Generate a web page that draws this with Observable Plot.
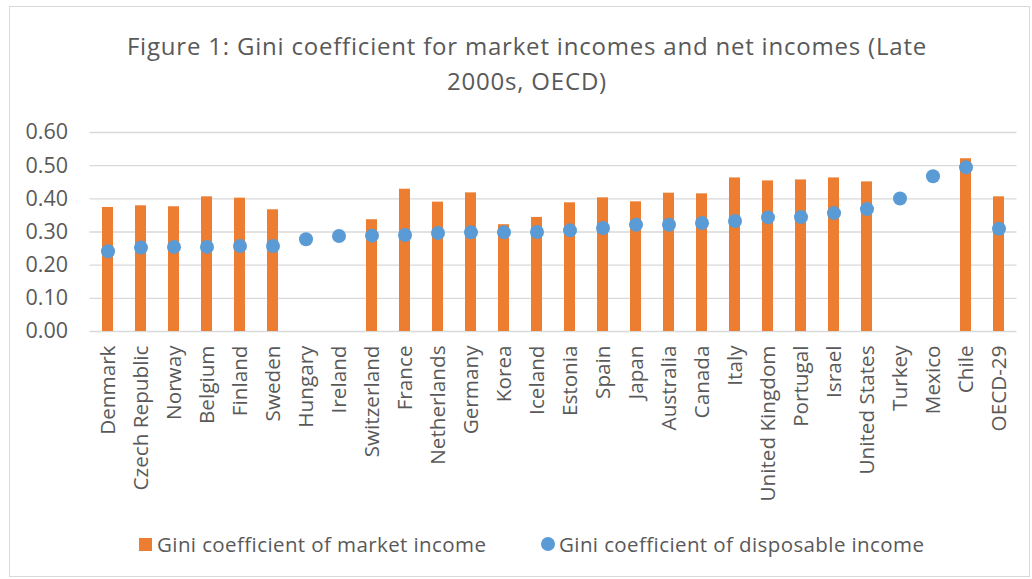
<!DOCTYPE html>
<html>
<head>
<meta charset="utf-8">
<script src="https://cdn.jsdelivr.net/npm/d3@7"></script>
<script src="https://cdn.jsdelivr.net/npm/@observablehq/plot@0.6"></script>
<style>
  html, body { margin: 0; padding: 0; background: #fff; }
  body { width: 1032px; height: 579px; overflow: hidden; position: relative; font-family: "Open Sans", sans-serif; color: #595959; }
  #frame { position: absolute; left: 9px; top: 6px; width: 1021px; height: 571px; border: 1px solid #d9d9d9; box-sizing: border-box; }
  #title { position: absolute; left: 11px; top: 28px; width: 1032px; text-align: center; font-size: 24px; letter-spacing: 0.8px; line-height: 35px; color: #595959; }
  #chart { position: absolute; left: 0; top: 0; }
  #legend { position: absolute; top: 530px; left: 0; width: 1032px; font-size: 20.5px; letter-spacing: 0.4px; color: #595959; }
  .item { position: absolute; display: flex; align-items: center; white-space: nowrap; }
  .sw { width: 13px; height: 13px; background: #ED7D31; margin-right: 5px; }
  .dt { width: 14px; height: 14px; border-radius: 50%; background: #5B9BD5; margin-right: 4px; }
</style>
</head>
<body>
<div id="frame"></div>
<div id="chart"></div>
<div id="title">Figure 1: Gini coefficient for market incomes and net incomes (Late<br>2000s, OECD)</div>
<div id="legend">
  <div class="item" style="left:139px;"><span class="sw"></span>Gini coefficient of market income</div>
  <div class="item" style="left:541px;"><span class="dt"></span>Gini coefficient of disposable income</div>
</div>
<script>
const countries = ["Denmark","Czech Republic","Norway","Belgium","Finland","Sweden","Hungary","Ireland","Switzerland","France","Netherlands","Germany","Korea","Iceland","Estonia","Spain","Japan","Australia","Canada","Italy","United Kingdom","Portugal","Israel","United States","Turkey","Mexico","Chile","OECD-29"];
const marketGini = [0.374,0.379,0.376,0.406,0.402,0.367,null,null,0.337,0.429,0.390,0.418,0.322,0.344,0.388,0.403,0.391,0.417,0.415,0.463,0.454,0.457,0.463,0.451,null,null,0.521,0.406];
const disposableGini = [0.242,0.253,0.255,0.255,0.258,0.258,0.278,0.288,0.289,0.291,0.297,0.299,0.299,0.300,0.305,0.312,0.322,0.322,0.327,0.333,0.344,0.345,0.357,0.369,0.401,0.468,0.495,0.310];
const yTicks = [0, 0.1, 0.2, 0.3, 0.4, 0.5, 0.6];

const rows = countries.map((c, i) => ({country: c, market: marketGini[i], disposable: disposableGini[i]}));
const marketRows = rows.filter(d => d.market != null);

const plot = Plot.plot({
  width: 1032,
  height: 520,
  marginTop: 132,
  marginBottom: 189,
  marginLeft: 89.5,
  marginRight: 15.5,
  style: {fontFamily: "'Open Sans', sans-serif", color: "#595959", background: "transparent"},
  x: {domain: countries, padding: 0, label: null},
  y: {domain: [0, 0.6], label: null},
  marks: [
    Plot.gridY(yTicks, {stroke: "#d9d9d9", strokeOpacity: 1, strokeWidth: 1.3}),
    Plot.barY(marketRows, {x: "country", y: "market", fill: "#ED7D31", insetLeft: 11, insetRight: 11}),
    Plot.dot(rows, {x: "country", y: "disposable", r: 7, fill: "#5B9BD5"}),
    Plot.axisY({ticks: yTicks, tickFormat: d3.format(".2f"), tickSize: 0, tickPadding: 22, fontSize: 21.5, fill: "#595959", label: null}),
    Plot.axisX({tickSize: 0, tickPadding: 14, tickRotate: -90, fontSize: 20.7, fill: "#595959", label: null})
  ]
});
document.getElementById("chart").appendChild(plot);
</script>
</body>
</html>
